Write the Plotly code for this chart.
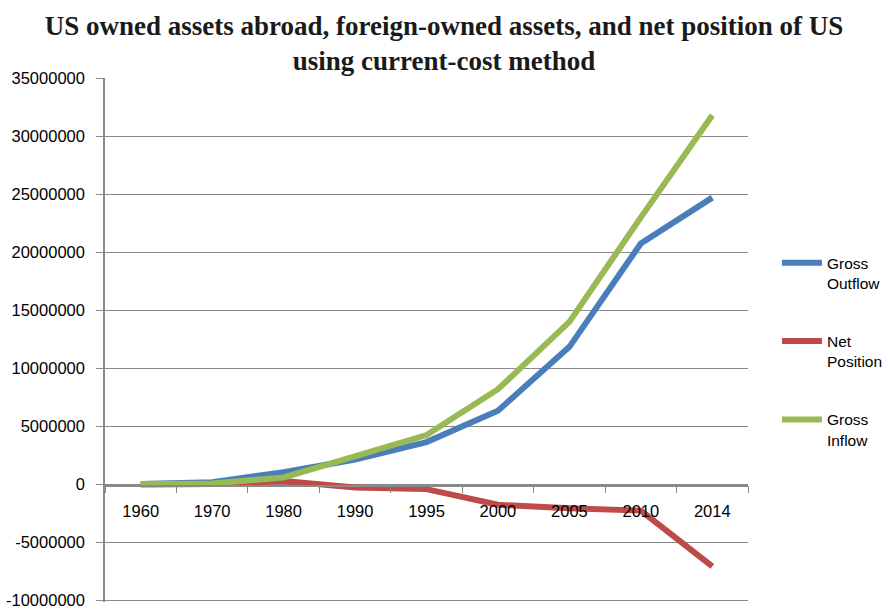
import plotly.graph_objects as go

years = ["1960", "1970", "1980", "1990", "1995", "2000", "2005", "2010", "2014"]
gross_outflow = [50000, 200000, 1050000, 2150000, 3650000, 6350000, 11850000, 20750000, 24700000]
net_position = [0, 50000, 300000, -250000, -400000, -1750000, -2050000, -2250000, -7050000]
gross_inflow = [30000, 80000, 600000, 2450000, 4250000, 8200000, 14000000, 23000000, 31800000]

y_tickvals = [-10000000, -5000000, 0, 5000000, 10000000, 15000000, 20000000, 25000000, 30000000, 35000000]
y_ticktext = ["-10000000", "-5000000", "0", "5000000", "10000000", "15000000", "20000000", "25000000", "30000000", "35000000"]

title_text = "US owned assets abroad, foreign-owned assets, and net position of US<br>using current-cost method"

GRID = "#8a8a8a"
TICKFONT = dict(family="Liberation Sans", size=16.5, color="#000000")

fig = go.Figure()
series = [
    ("Gross<br>Outflow", gross_outflow, "#4a7ebb"),
    ("Net<br>Position", net_position, "#be4b48"),
    ("Gross<br>Inflow", gross_inflow, "#98b954"),
]
for i, (name, vals, col) in enumerate(series):
    fig.add_trace(go.Scatter(
        x=years, y=vals, name=name, mode="lines",
        line=dict(color=col, width=6), legendgroup=str(i),
    ))

fig.update_layout(
    width=888, height=609,
    margin=dict(l=105, r=140, t=78, b=7, autoexpand=False),
    paper_bgcolor="white", plot_bgcolor="white",
    title=dict(
        text=title_text,
        font=dict(family="Liberation Serif", size=27, color="#1a1a1a", weight="bold"),
        x=0.5, xref="container", xanchor="center",
        y=0.943, yref="container", yanchor="top",
    ),
    legend=dict(
        x=1.045, y=0.679, xanchor="left", yanchor="top",
        font=dict(family="Liberation Sans", size=15.5, color="#000000"),
        tracegroupgap=35, valign="top", itemwidth=40,
        bgcolor="rgba(0,0,0,0)",
    ),
    xaxis=dict(
        type="category", categoryorder="array", categoryarray=years,
        range=[-0.5, 8.5],
        anchor="free", position=0.2222,
        showline=True, linecolor=GRID, linewidth=1.5,
        ticks="outside", tickson="boundaries", ticklen=7, tickcolor=GRID,
        showgrid=False, tickfont=TICKFONT, ticklabelstandoff=11,
    ),
    yaxis=dict(
        range=[-10120000, 35000000],
        tickvals=y_tickvals, ticktext=y_ticktext,
        showline=True, linecolor=GRID, linewidth=1.5,
        ticks="outside", ticklen=7, tickcolor=GRID,
        showgrid=True, gridcolor=GRID, gridwidth=1,
        zeroline=False, tickfont=TICKFONT, ticklabelstandoff=8,
        ticklabeloverflow="allow",
    ),
)

fig.write_html("out.html")
